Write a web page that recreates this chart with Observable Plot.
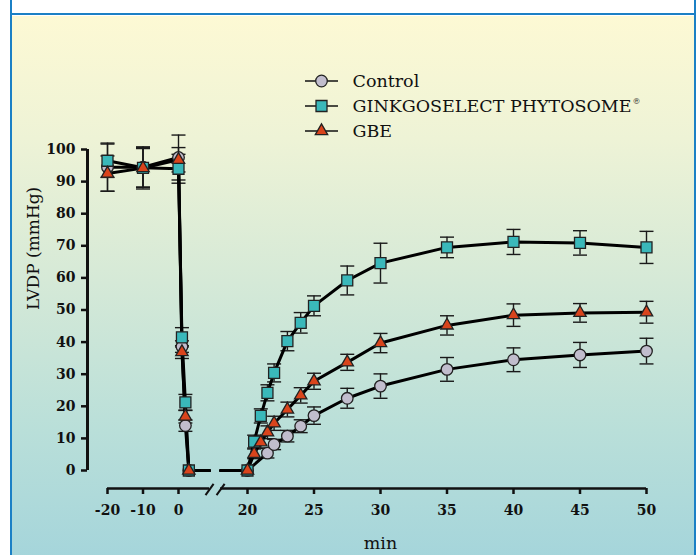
<!DOCTYPE html>
<html><head><meta charset="utf-8">
<script src="https://cdn.jsdelivr.net/npm/d3@7"></script>
<script src="https://cdn.jsdelivr.net/npm/@observablehq/plot@0.6"></script>
<style>
html,body{margin:0;padding:0;background:#fff;}
#wrap{position:relative;width:698px;height:555px;overflow:hidden;}
#box{position:absolute;left:10px;top:0;width:682px;height:570px;border-left:2.5px solid #1b80c5;border-right:2.5px solid #1b80c5;}
#head{height:13px;background:#fff;border-bottom:2.5px solid #1b80c5;}
#bg{position:absolute;left:0;right:0;top:15.5px;bottom:0;background:linear-gradient(to bottom,#fdf9d4 0%,#eef3d6 22%,#d5e9d7 48%,#b9dfd9 75%,#a3d4db 100%);}
#wrap svg{position:absolute;left:0;top:0;}
</style>
</head><body>
<div id="wrap"><div id="box"><div id="head"></div><div id="bg"></div></div></div>
<script>
// ---- data ----
const seriesNames = ["Control", "GINKGOSELECT PHYTOSOME", "GBE"];

const controlTime = [-20, -10, 0, 1, 2, 3, 20, 21.5, 22, 23, 24, 25, 27.5, 30, 35, 40, 45, 50];
const controlMean = [94.5, 94.5, 97.5, 38.6, 14.0, 0, 0, 5.4, 8.1, 10.7, 13.8, 17.1, 22.5, 26.3, 31.5, 34.5, 36.0, 37.2];
const controlErr  = [7.5, 6.3, 7.0, 1.8, 1.8, 0, 0, 1.5, 1.6, 1.8, 2.0, 2.7, 3.1, 3.8, 3.7, 3.7, 3.9, 4.0];

const ginkgoTime = [-20, -10, 0, 1, 2, 3, 20, 20.5, 21, 21.5, 22, 23, 24, 25, 27.5, 30, 35, 40, 45, 50];
const ginkgoMean = [96.5, 94.3, 94.0, 41.5, 21.2, 0, 0, 9.0, 17.0, 24.2, 30.4, 40.3, 46.0, 51.3, 59.2, 64.6, 69.5, 71.2, 70.9, 69.5];
const ginkgoErr  = [5.2, 6.0, 4.5, 3.0, 2.5, 0, 0, 2.0, 2.2, 2.5, 2.8, 3.0, 3.2, 3.1, 4.5, 6.2, 3.2, 3.9, 3.8, 5.0];

const gbeTime = [-20, -10, 0, 1, 2, 3, 20, 20.5, 21, 21.5, 22, 23, 24, 25, 27.5, 30, 35, 40, 45, 50];
const gbeMean = [92.5, 94.2, 96.8, 36.9, 16.8, 0, 0, 5.2, 8.8, 11.9, 14.7, 19.0, 23.4, 27.8, 33.7, 39.7, 45.2, 48.4, 49.1, 49.3];
const gbeErr  = [5.5, 6.5, 3.8, 2.0, 2.0, 0, 0, 1.5, 1.8, 2.0, 2.2, 2.3, 2.4, 2.5, 2.5, 3.0, 3.0, 3.5, 2.9, 3.4];

const xTicks = [-20, -10, 0, 20, 25, 30, 35, 40, 45, 50];
const yTicks = [0, 10, 20, 30, 40, 50, 60, 70, 80, 90, 100];
const axisBreak = [9, 12.2];
const xLabel = "min";
const yLabel = "LVDP (mmHg)";

// ---- layout / style ----
const W = 698, H = 555;
const xDomain = [-20, 0, 20, 50], xRange = [107, 178, 247, 646];
const yDomain = [0, 100], yRange = [470, 149];
const mL = 87, mB = 67;
const axisDy = (H - mB) - yRange[0];
const FONT = "'DejaVu Serif', 'Liberation Serif', serif";
const styles = [
  {symbol: "circle", r: 5.8, fill: "#c1bdcd"},
  {symbol: "square", r: 6.2, fill: "#3ab8ba"},
  {symbol: "triangle", r: 4.6, fill: "#d9441c"}
];

function build(name, T, M, E) {
  return T.map((t, i) => ({s: name, t, m: M[i], e: E[i]}));
}
const data = [
  build(seriesNames[0], controlTime, controlMean, controlErr),
  build(seriesNames[1], ginkgoTime, ginkgoMean, ginkgoErr),
  build(seriesNames[2], gbeTime, gbeMean, gbeErr)
];
// line data with a gap at the axis break
function withBreak(rows) {
  const out = [];
  for (let i = 0; i < rows.length; i++) {
    out.push(rows[i]);
    const n = rows[i + 1];
    if (n && rows[i].t < axisBreak[0] && n.t > axisBreak[1]) {
      out.push({s: rows[i].s, t: axisBreak[0], m: rows[i].m});
      out.push({s: rows[i].s, t: NaN, m: NaN});
      out.push({s: rows[i].s, t: axisBreak[1], m: n.m});
    }
  }
  return out;
}
const lineData = data.flatMap(withBreak);
const errData = data.flat().filter(d => d.e > 0);

const capSymbol = {draw(ctx, size) { const w = Math.sqrt(size / Math.PI); ctx.moveTo(-w, 0); ctx.lineTo(w, 0); }};
const slashSymbol = {draw(ctx, size) { const w = Math.sqrt(size / Math.PI); ctx.moveTo(-0.72 * w, w); ctx.lineTo(0.72 * w, -w); }};

const axisSegs = [
  {a: xDomain[0], b: axisBreak[0], y: yDomain[0]},
  {a: axisBreak[1], b: xDomain[xDomain.length - 1], y: yDomain[0]}
];

const chart = Plot.plot({
  width: W, height: H,
  marginLeft: mL, marginRight: W - xRange[xRange.length - 1], marginTop: 20, marginBottom: mB,
  x: {type: "linear", domain: xDomain, range: xRange, axis: null, label: null},
  y: {type: "linear", domain: yDomain, range: yRange, axis: null, label: null},
  style: {background: "transparent", fontFamily: FONT, color: "#111", overflow: "visible"},
  marks: [
    // axes
    Plot.ruleX([{x: xDomain[0], y1: yDomain[0], y2: yDomain[1]}], {x: "x", y1: "y1", y2: "y2", dx: mL - xRange[0], stroke: "#111", strokeWidth: 3}),
    Plot.ruleY(axisSegs, {x1: "a", x2: "b", y: "y", dy: axisDy, stroke: "#111", strokeWidth: 2.6}),
    Plot.dot(axisBreak, {x: d => d, y: () => yDomain[0], dy: axisDy + 1, symbol: slashSymbol, r: 5.6, fill: "none", stroke: "#111", strokeWidth: 2}),
    Plot.axisY(yTicks, {anchor: "left", tickSize: 6, tickPadding: 6, fontSize: 14, fontWeight: "bold", strokeWidth: 2.5, stroke: "#111", fill: "#111", tickFormat: d => String(d), label: null}),
    Plot.axisX(xTicks, {anchor: "bottom", tickSize: 6, tickPadding: 11, fontSize: 14, fontWeight: "bold", strokeWidth: 2.5, stroke: "#111", fill: "#111", tickFormat: d => String(d), label: null}),
    Plot.text([yLabel], {text: d => d, frameAnchor: "left", y: () => (yDomain[0] + yDomain[1]) / 2, dx: -54, rotate: -90, fontSize: 17, fill: "#111"}),
    Plot.text([xLabel], {text: d => d, frameAnchor: "bottom", x: () => 30, dy: 60, lineAnchor: "bottom", fontSize: 17.5, fill: "#111"}),
    // error bars
    Plot.ruleX(errData, {x: "t", y1: d => d.m - d.e, y2: d => d.m + d.e, stroke: "#1a1a1a", strokeWidth: 1.4}),
    Plot.dot(errData, {x: "t", y: d => d.m - d.e, symbol: capSymbol, r: 7, fill: "none", stroke: "#1a1a1a", strokeWidth: 1.4}),
    Plot.dot(errData, {x: "t", y: d => d.m + d.e, symbol: capSymbol, r: 7, fill: "none", stroke: "#1a1a1a", strokeWidth: 1.4}),
    // lines
    Plot.line(lineData, {x: "t", y: "m", z: "s", stroke: "#000", strokeWidth: 3, strokeLinejoin: "round"}),
    // markers
    ...data.map((rows, i) => Plot.dot(rows, {x: "t", y: "m", symbol: styles[i].symbol, r: styles[i].r, fill: styles[i].fill, stroke: "#222", strokeWidth: 1.3}))
  ]
});
document.getElementById("wrap").appendChild(chart);

// ---- legend ----
const leg = d3.create("svg").attr("width", W).attr("height", H).style("font-family", FONT);
const symTypes = [d3.symbolCircle, d3.symbolSquare, d3.symbolTriangle];
seriesNames.forEach((name, i) => {
  const cy = 81 + i * 25;
  const g = leg.append("g");
  g.append("line").attr("x1", 305).attr("x2", 338).attr("y1", cy).attr("y2", cy).attr("stroke", "#111").attr("stroke-width", 1.6);
  g.append("path").attr("d", d3.symbol(symTypes[i], Math.PI * styles[i].r * styles[i].r)())
    .attr("transform", `translate(321.5,${cy})`).attr("fill", styles[i].fill).attr("stroke", "#222").attr("stroke-width", 1.3);
  const t = g.append("text").attr("x", 352.5).attr("y", cy + 6).attr("font-size", 17.5).attr("fill", "#111").text(name);
  if (i === 1) t.append("tspan").attr("font-size", 8).attr("dy", -8).attr("dx", 1).text("®");
});
document.getElementById("wrap").appendChild(leg.node());
</script>
</body></html>
